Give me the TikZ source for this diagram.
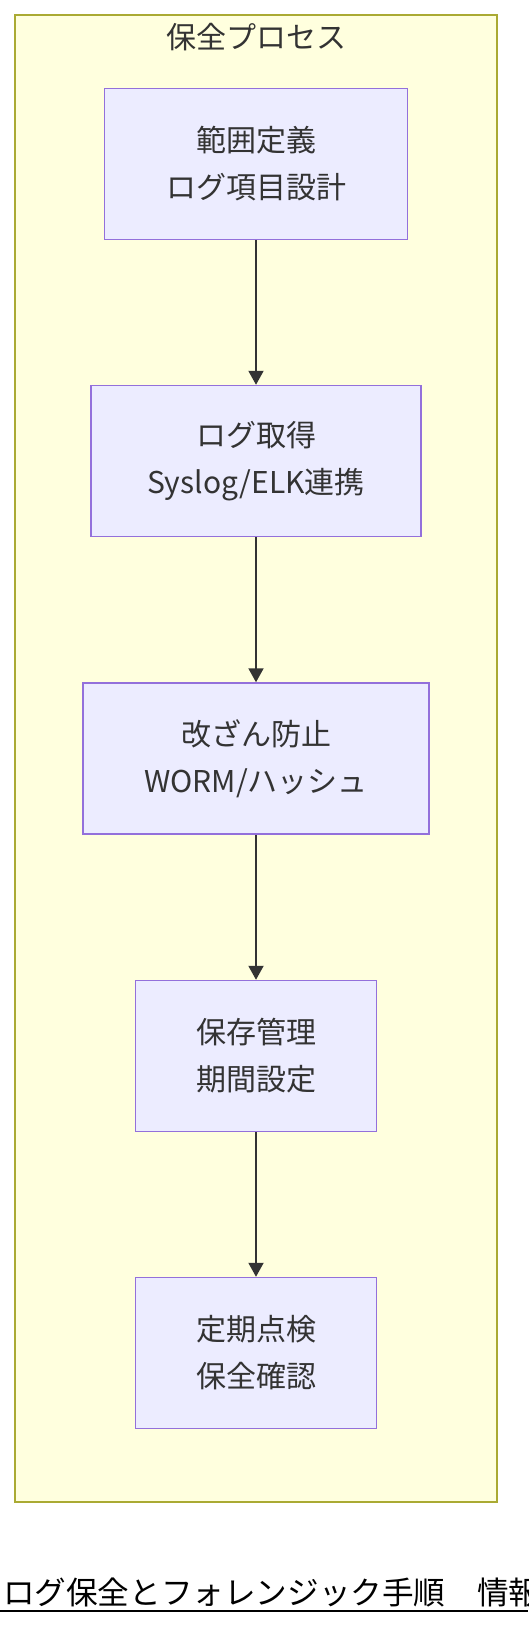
\documentclass[tikz,border=0pt]{standalone}
\usepackage{fontspec}
\setmainfont{Noto Sans CJK JP}
\usetikzlibrary{arrows.meta}
\definecolor{clusterfill}{HTML}{FFFFDE}
\definecolor{clusterline}{HTML}{AAAA33}
\definecolor{nodefill}{HTML}{ECECFF}
\definecolor{nodeline}{HTML}{9370DB}
\definecolor{txt}{HTML}{333333}
\begin{document}
\begin{tikzpicture}[x=1pt,y=-1pt,
  clusterbox/.style={draw=clusterline, fill=clusterfill, line width=1.5pt, inner sep=0pt},
  titletext/.style={text=txt, inner sep=0pt, font=\fontsize{30}{36}\selectfont},
  stepbox/.style={draw=nodeline, fill=nodefill, line width=1.5pt, inner sep=0pt,
    minimum height=151pt, align=center, text=txt, font=\fontsize{30}{47}\selectfont},
  flow/.style={draw=txt, line width=2pt, -{Triangle[width=15pt,length=14pt]}},
  foottext/.style={inner sep=0pt, anchor=base west, text=black, font=\fontsize{31.6}{36}\selectfont}
]
\useasboundingbox (0,0) rectangle (528,1626);
\fill[white] (0,0) rectangle (528,1626);
\node[clusterbox, minimum width=482pt, minimum height=1487pt] (cl) at (256,758.5) {};
\node[titletext] (title) at (256,37.5) {保全プロセス};
\node[stepbox, minimum width=303pt] (n1) at (256,164) {範囲定義\\ログ項目設計};
\node[stepbox, minimum width=330pt] (n2) at (256,461) {ログ取得\\Syslog/ELK連携};
\node[stepbox, minimum width=346pt] (n3) at (256,758.5) {改ざん防止\\WORM/ハッシュ};
\node[stepbox, minimum width=241pt] (n4) at (256,1056) {保存管理\\期間設定};
\node[stepbox, minimum width=241pt] (n5) at (256,1353) {定期点検\\保全確認};
\draw[flow] (n1) -- (n2);
\draw[flow] (n2) -- (n3);
\draw[flow] (n3) -- (n4);
\draw[flow] (n4) -- (n5);
\begin{scope}
\clip (0,0) rectangle (528,1626);
\node[foottext] (foot) at (3,1604) {ログ保全とフォレンジック手順　情報};
\end{scope}
\coordinate (ulA) at (0,1611);
\coordinate (ulB) at (528,1611);
\draw[black, line width=2pt] (ulA) -- (ulB);
\end{tikzpicture}
\end{document}
